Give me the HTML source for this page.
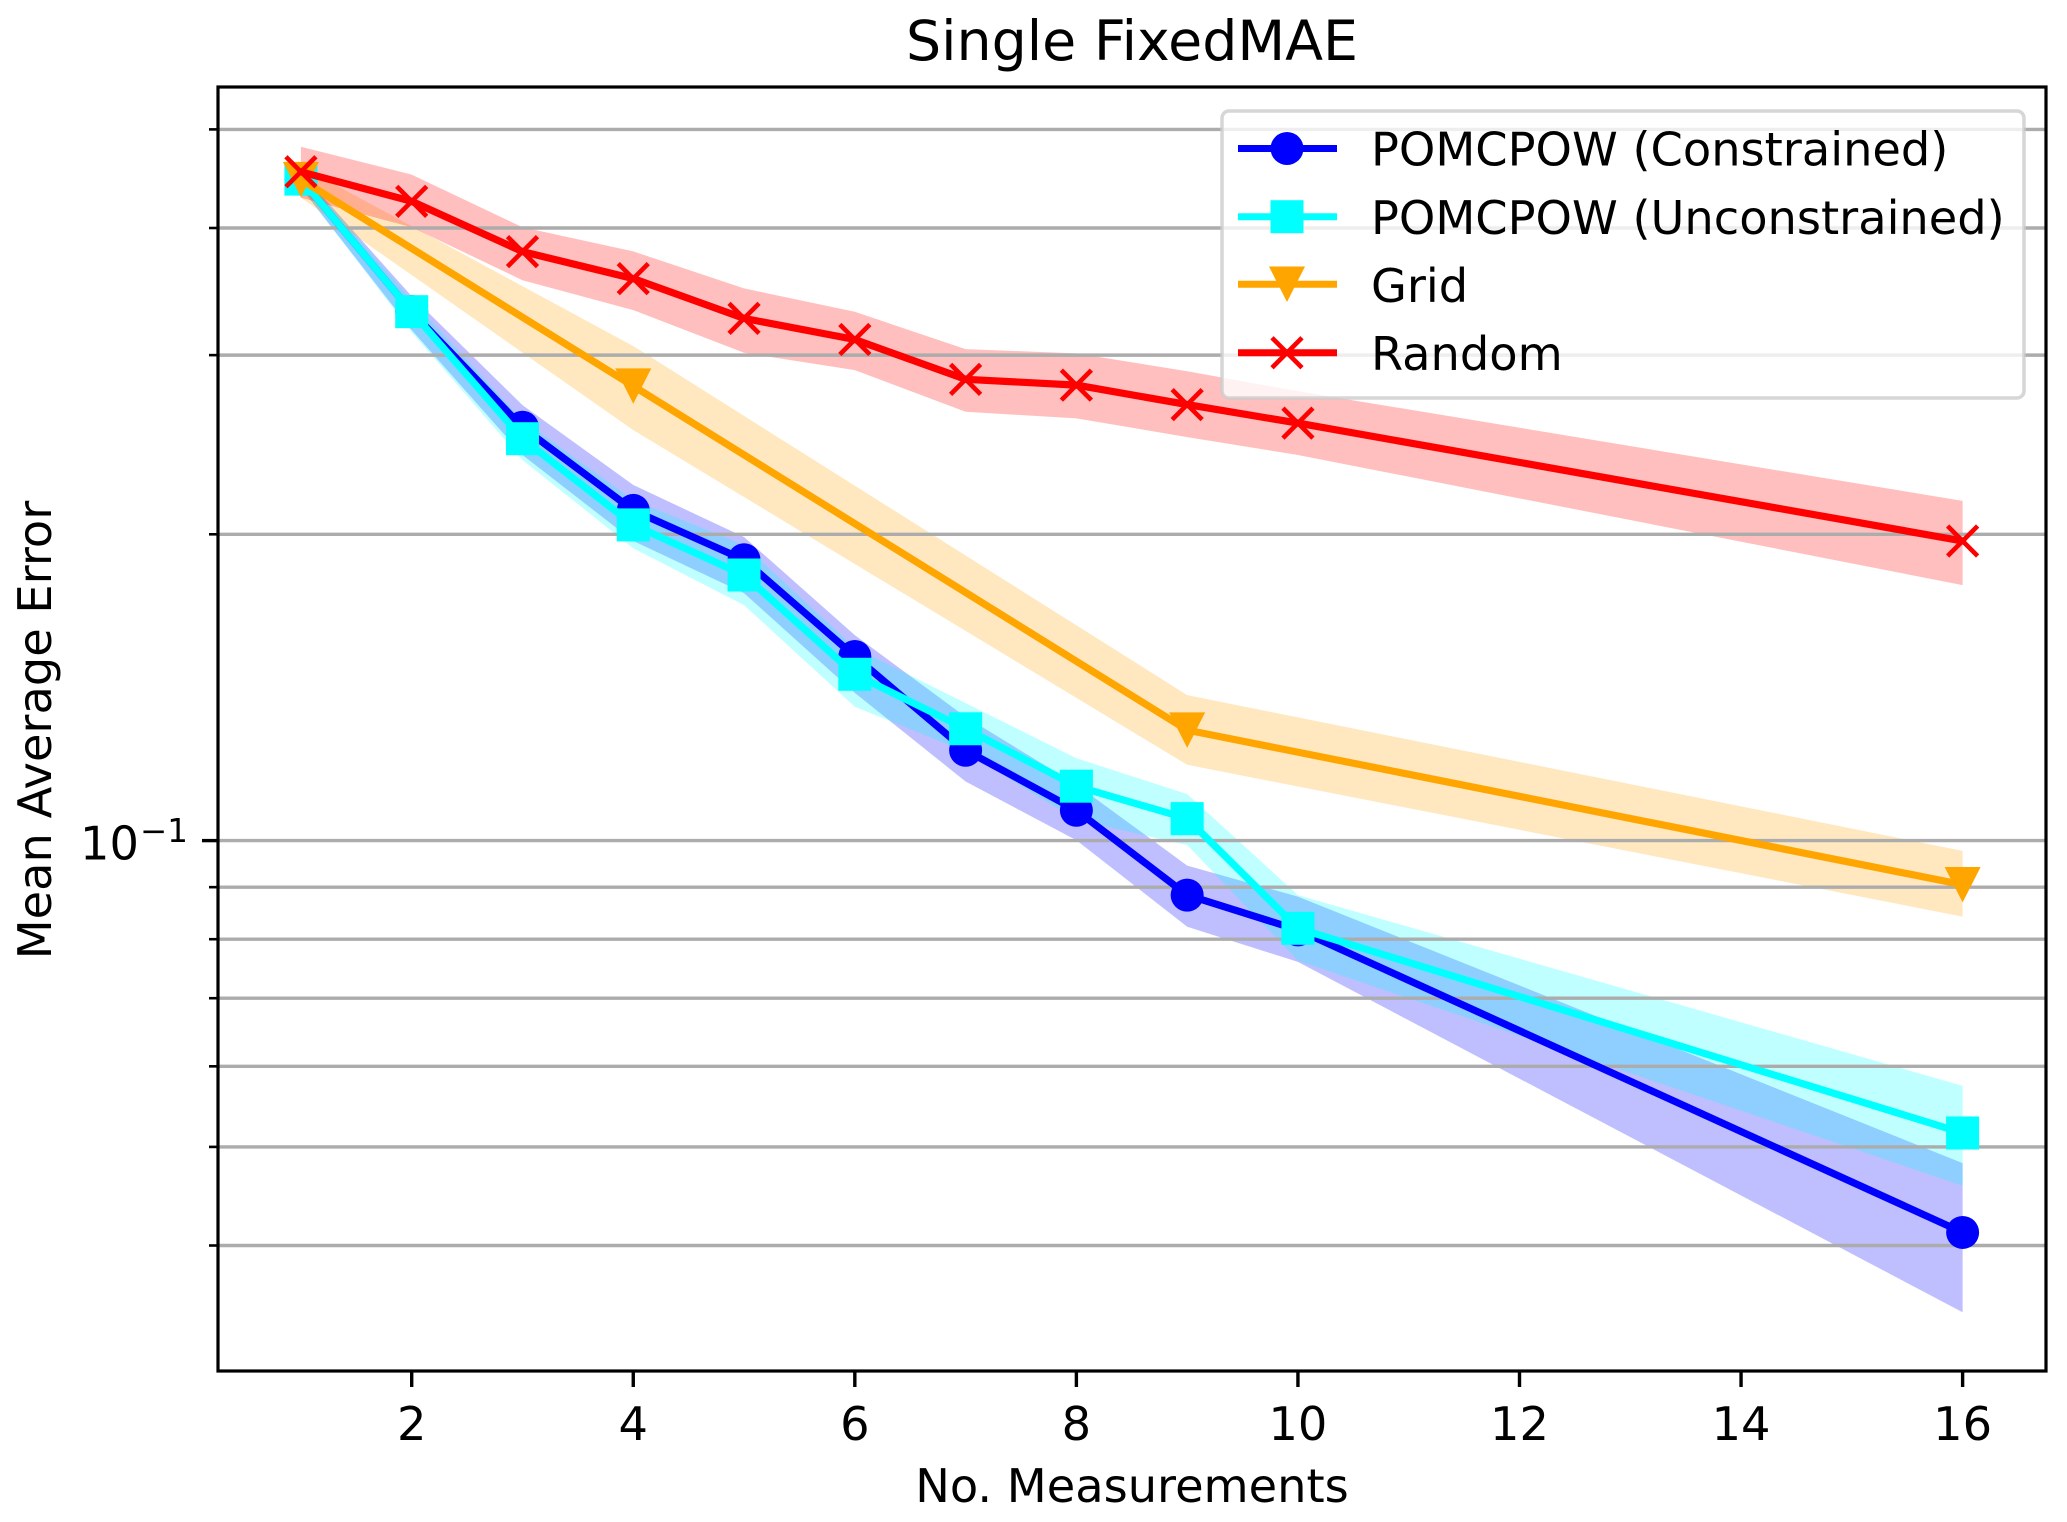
<!DOCTYPE html>
<html lang="en">
<head>
<meta charset="utf-8">
<title>Single FixedMAE</title>
<style>
  html, body { margin: 0; padding: 0; background: #fff; }
  #chart { display: block; width: 2067px; height: 1522px; font-family: "DejaVu Sans", "Liberation Sans", sans-serif; fill: #000; }
</style>
</head>
<body>
<svg id="chart" xmlns="http://www.w3.org/2000/svg" width="2067" height="1522" viewBox="0 0 2067 1522">
  <defs>
    <clipPath id="plot-clip"><rect x="218" y="87" width="1828" height="1284"></rect></clipPath>
  </defs>
  <rect x="0" y="0" width="2067" height="1522" fill="#fff"></rect>
  <g id="bands" clip-path="url(#plot-clip)"></g>
  <g id="grid"></g>
  <g id="series" clip-path="url(#plot-clip)"></g>
  <g id="ticks"></g>
  <rect x="218" y="87" width="1828" height="1284" fill="none" stroke="#000" stroke-width="3.2"></rect>

  <text x="1132" y="60" font-size="55.4" text-anchor="middle">Single FixedMAE</text>
  <text x="1132" y="1502" font-size="46.3" text-anchor="middle">No. Measurements</text>
  <text transform="translate(51 730) rotate(-90)" x="0" y="0" font-size="46.3" text-anchor="middle">Mean Average Error</text>

  <g>
    <rect x="1222" y="111" width="802" height="287" rx="7" ry="7" fill="#fff" fill-opacity="0.8" stroke="#cccccc" stroke-opacity="0.8" stroke-width="3.5"></rect>
    <g>
      <line x1="1238" y1="148.5" x2="1337" y2="148.5" stroke="#0000ff" stroke-width="7"></line>
      <circle cx="1287" cy="148.5" r="16.5" fill="#0000ff"></circle>
      <text x="1371" y="165.5" font-size="46.3">POMCPOW (Constrained)</text>
    </g>
    <g>
      <line x1="1238" y1="216.7" x2="1337" y2="216.7" stroke="#00ffff" stroke-width="7"></line>
      <rect x="1270.5" y="200.2" width="33" height="33" fill="#00ffff"></rect>
      <text x="1371" y="234" font-size="46.3">POMCPOW (Unconstrained)</text>
    </g>
    <g>
      <line x1="1238" y1="284.3" x2="1337" y2="284.3" stroke="#ffa500" stroke-width="7"></line>
      <polygon points="1269,266.5 1305,266.5 1287,302" fill="#ffa500"></polygon>
      <text x="1371" y="302" font-size="46.3">Grid</text>
    </g>
    <g>
      <line x1="1238" y1="352.7" x2="1337" y2="352.7" stroke="#ff0000" stroke-width="7"></line>
      <path d="M1272 337.7L1302 367.7M1272 367.7L1302 337.7" stroke="#ff0000" stroke-width="4.6" fill="none"></path>
      <text x="1371" y="370" font-size="46.3">Random</text>
    </g>
  </g>
</svg>

<script>
// Measurement counts (x values)
const measurements = [1, 2, 3, 4, 5, 6, 7, 8, 9, 10, 16];
const gridMeasurements = [1, 4, 9, 16];

// POMCPOW (Constrained)
const constrainedMean  = [0.4468, 0.3310, 0.2548, 0.2111, 0.1888, 0.1517, 0.1227, 0.1071, 0.0884, 0.0817, 0.0412];
const constrainedUpper = [0.4540, 0.3427, 0.2679, 0.2236, 0.1988, 0.1592, 0.1323, 0.1135, 0.0945, 0.0881, 0.0482];
const constrainedLower = [0.4383, 0.3175, 0.2393, 0.1970, 0.1751, 0.1397, 0.1143, 0.1001, 0.0823, 0.0760, 0.0344];

// POMCPOW (Unconstrained)
const unconstrainedMean  = [0.4468, 0.3310, 0.2483, 0.2043, 0.1824, 0.1457, 0.1288, 0.1131, 0.1051, 0.0820, 0.0516];
const unconstrainedUpper = [0.4540, 0.3398, 0.2590, 0.2161, 0.1952, 0.1547, 0.1365, 0.1205, 0.1111, 0.0884, 0.0574];
const unconstrainedLower = [0.4383, 0.3160, 0.2366, 0.1938, 0.1704, 0.1354, 0.1223, 0.1048, 0.0990, 0.0762, 0.0458];

// Grid
const gridMean  = [0.4463, 0.2797, 0.1284, 0.0905];
const gridUpper = [0.4599, 0.3062, 0.1390, 0.0977];
const gridLower = [0.4285, 0.2532, 0.1187, 0.0842];

// Random
const randomMean  = [0.4543, 0.4249, 0.3792, 0.3567, 0.3260, 0.3108, 0.2840, 0.2803, 0.2682, 0.2572, 0.1970];
const randomUpper = [0.4808, 0.4514, 0.4006, 0.3794, 0.3489, 0.3309, 0.3041, 0.3012, 0.2893, 0.2765, 0.2157];
const randomLower = [0.4285, 0.4006, 0.3554, 0.3322, 0.3016, 0.2900, 0.2639, 0.2600, 0.2492, 0.2393, 0.1783];

// Axis ticks
const xTickValues = [2, 4, 6, 8, 10, 12, 14, 16];
const xTickLabels = ['2', '4', '6', '8', '10', '12', '14', '16'];
const yMajorTicks = [0.1];
const yMinorTicks = [0.04, 0.05, 0.06, 0.07, 0.08, 0.09, 0.2, 0.3, 0.4, 0.5];

const SVG_NS = 'http://www.w3.org/2000/svg';

function xScale(v) {
  return 411.7 + (v - 2) * 110.78;
}
function yScale(v) {
  return 840.6 - 1017.5 * Math.log10(v / 0.1);
}
function make(tag, attrs, parent) {
  const el = document.createElementNS(SVG_NS, tag);
  Object.keys(attrs).forEach(function (k) { el.setAttribute(k, attrs[k]); });
  parent.appendChild(el);
  return el;
}

const bandsLayer = document.getElementById('bands');
const gridLayer = document.getElementById('grid');
const seriesLayer = document.getElementById('series');
const ticksLayer = document.getElementById('ticks');

function drawBand(xs, upper, lower, color, name) {
  const top = xs.map(function (x, i) { return xScale(x).toFixed(1) + ',' + yScale(upper[i]).toFixed(1); });
  const bottom = xs.map(function (x, i) { return xScale(x).toFixed(1) + ',' + yScale(lower[i]).toFixed(1); }).reverse();
  const band = make('polygon', { points: top.concat(bottom).join(' '), fill: color, 'fill-opacity': 0.25 }, bandsLayer);
  
  
}

function drawMarker(kind, cx, cy, color, parent, name) {
  let m;
  if (kind === 'circle') {
    m = make('circle', { cx: cx, cy: cy, r: 16.5, fill: color }, parent);
  } else if (kind === 'square') {
    m = make('rect', { x: cx - 16.5, y: cy - 16.5, width: 33, height: 33, fill: color }, parent);
  } else if (kind === 'triangle') {
    m = make('polygon', { points: (cx - 18) + ',' + (cy - 17.7) + ' ' + (cx + 18) + ',' + (cy - 17.7) + ' ' + cx + ',' + (cy + 17.7), fill: color }, parent);
  } else {
    const d = 'M' + (cx - 15) + ' ' + (cy - 15) + 'L' + (cx + 15) + ' ' + (cy + 15) + 'M' + (cx - 15) + ' ' + (cy + 15) + 'L' + (cx + 15) + ' ' + (cy - 15);
    m = make('path', { d: d, stroke: color, 'stroke-width': 4.6, fill: 'none' }, parent);
  }
  
  
}

function drawSeries(xs, mean, color, kind, name) {
  const group = make('g', {}, seriesLayer);
  
  
  const pts = xs.map(function (x, i) { return xScale(x).toFixed(1) + ',' + yScale(mean[i]).toFixed(1); });
  const line = make('polyline', { points: pts.join(' '), fill: 'none', stroke: color, 'stroke-width': 7.2, 'stroke-linejoin': 'round', 'stroke-linecap': 'square' }, group);
  
  
  xs.forEach(function (x, i) {
    drawMarker(kind, xScale(x), yScale(mean[i]), color, group, name);
  });
}

// Shaded bands
drawBand(measurements, constrainedUpper, constrainedLower, '#0000ff', 'constrained');
drawBand(measurements, unconstrainedUpper, unconstrainedLower, '#00ffff', 'unconstrained');
drawBand(gridMeasurements, gridUpper, gridLower, '#ffa500', 'grid');
drawBand(measurements, randomUpper, randomLower, '#ff0000', 'random');

// Horizontal grid lines and y ticks
yMajorTicks.concat(yMinorTicks).forEach(function (v) {
  const y = yScale(v);
  const isMajor = yMajorTicks.indexOf(v) !== -1;
  const gridLine = make('line', { x1: 218, x2: 2046, y1: y, y2: y, stroke: '#acacac', 'stroke-width': 3.4 }, gridLayer);
  
  
  const tick = make('line', { x1: isMajor ? 202 : 209, x2: 218, y1: y, y2: y, stroke: '#000', 'stroke-width': isMajor ? 3.4 : 2.6 }, ticksLayer);
  
  
});

// Series, in original draw order
drawSeries(measurements, constrainedMean, '#0000ff', 'circle', 'constrained');
drawSeries(measurements, unconstrainedMean, '#00ffff', 'square', 'unconstrained');
drawSeries(gridMeasurements, gridMean, '#ffa500', 'triangle', 'grid');
drawSeries(measurements, randomMean, '#ff0000', 'cross', 'random');

// X ticks and labels
xTickValues.forEach(function (v, i) {
  const x = xScale(v);
  const tick = make('line', { x1: x, x2: x, y1: 1371, y2: 1387, stroke: '#000', 'stroke-width': 3.4 }, ticksLayer);
  
  
  const label = make('text', { x: x, y: 1440, 'font-size': 46.3, 'text-anchor': 'middle' }, ticksLayer);
  
  
  label.textContent = xTickLabels[i];
});

// Y major tick label (10^-1)
yMajorTicks.forEach(function (v) {
  const y = yScale(v);
  const base = make('text', { x: 80, y: y + 19, 'font-size': 46.3 }, ticksLayer);
  
  
  base.textContent = '10';
  const exp = make('text', { x: 140, y: y + 1.5, 'font-size': 32.5 }, ticksLayer);
  
  
  exp.textContent = '\u22121';
});
</script>
</body>
</html>
